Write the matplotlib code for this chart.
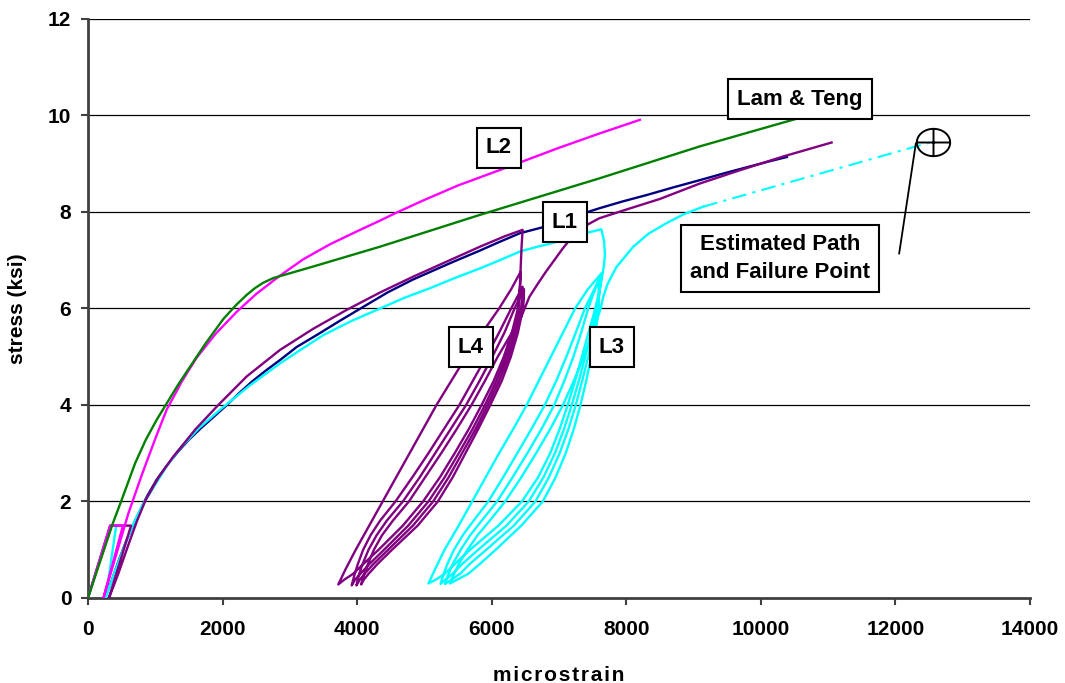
import numpy as np
import matplotlib
matplotlib.use("Agg")
import matplotlib.pyplot as plt
from matplotlib.path import Path

plt.rcParams['font.family'] = ['Liberation Sans', 'DejaVu Sans']
plt.rcParams['font.weight'] = 'bold'

# ---------------- data (microstrain, ksi) ----------------
# Seating load to ~1.5 ksi shared by the specimens
seat_strain = [0, 330]
seat_stress = [0.0, 1.5]

# L1 - monotonic
l1_strain = [253, 350, 450, 560, 700, 875, 1020, 1174, 1350, 1500, 1680, 1858, 2065,
             2250, 2450, 2650, 2853, 3100, 3400, 3750, 4087, 4450, 4830, 5400, 5825,
             6100, 6420, 6750, 7200, 7608, 7950, 8300, 8700, 9094, 9450, 9800, 10100, 10387]
l1_stress = [0.0, 0.35, 0.75, 1.15, 1.6, 2.1, 2.45, 2.75, 3.05, 3.28, 3.52, 3.74, 4.0,
             4.25, 4.5, 4.72, 4.93, 5.2, 5.45, 5.75, 6.03, 6.33, 6.6, 6.95, 7.2,
             7.37, 7.56, 7.68, 7.9, 8.08, 8.22, 8.35, 8.51, 8.66, 8.80, 8.93, 9.04, 9.14]

# L2 - monotonic (after seating hold and unload)
l2_strain = [520, 230, 420, 600, 800, 1000, 1169, 1400, 1615, 1900, 2210, 2500, 2853,
             3200, 3596, 4000, 4339, 4560, 5000, 5500, 6122, 7000, 7608, 8203]
l2_stress = [1.5, 0.0, 0.9, 1.75, 2.55, 3.3, 3.9, 4.5, 4.98, 5.48, 5.93, 6.3, 6.68,
             7.02, 7.33, 7.6, 7.82, 7.97, 8.25, 8.55, 8.87, 9.33, 9.63, 9.91]

# Lam & Teng model
lt_strain = [0, 370, 500, 700, 860, 1020, 1169, 1340, 1516, 1750, 2011, 2200, 2358,
             2480, 2600, 2754, 3348, 4339, 5825, 7608, 9094, 10700]
lt_stress = [0.0, 1.55, 2.03, 2.79, 3.28, 3.69, 4.03, 4.42, 4.79, 5.28, 5.78, 6.07, 6.28,
             6.42, 6.53, 6.63, 6.87, 7.28, 7.94, 8.70, 9.36, 10.0]

# L3 - cyclic: envelope, unload (U) / reload (R) cycles, final reload
l3_env_strain = [420, 263, 400, 550, 680, 800, 1000, 1180, 1367, 1650, 1962, 2400, 2853,
                 3200, 3500, 3900, 4339, 4700, 5082, 5450, 5825, 6120, 6420, 6680, 6915,
                 7360, 7630]
l3_env_stress = [1.5, 0.0, 0.55, 1.1, 1.55, 1.9, 2.35, 2.75, 3.1, 3.52, 3.9, 4.4, 4.86,
                 5.18, 5.45, 5.73, 6.0, 6.22, 6.42, 6.63, 6.83, 7.0, 7.18, 7.28, 7.36,
                 7.55, 7.64]
l3_ua_strain = [7670, 7683, 7670, 7650, 7620, 7540, 7440, 7340, 7240, 7130, 7010, 6870,
                6690, 6450, 6100, 5680, 5450, 5300, 5170, 5060]
l3_ua_stress = [7.4, 7.14, 6.9, 6.73, 6.5, 6.0, 5.5, 5.0, 4.5, 4.0, 3.5, 3.0,
                2.5, 2.0, 1.5, 1.0, 0.7, 0.5, 0.38, 0.30]
l3_r1_strain = [5160, 5300, 5510, 5710, 5910, 6110, 6320, 6520, 6700, 6880, 7060, 7240,
                7430, 7634]
l3_r1_stress = [0.6, 1.0, 1.5, 2.0, 2.5, 3.0, 3.5, 4.0, 4.5, 5.0, 5.5, 6.0, 6.4, 6.73]
l3_ub_strain = [7620, 7560, 7480, 7390, 7295, 7190, 7075, 6940, 6770, 6550, 6220, 5800,
                5560, 5420, 5310, 5240]
l3_ub_stress = [6.5, 6.0, 5.5, 5.0, 4.5, 4.0, 3.5, 3.0, 2.5, 2.0, 1.5, 1.0,
                0.7, 0.5, 0.38, 0.29]
l3_r2_strain = [5275, 5340, 5440, 5570, 5730, 5950, 6170, 6380, 6590, 6790, 6960, 7110,
                7250, 7385, 7490, 7608]
l3_r2_stress = [0.45, 0.7, 1.0, 1.3, 1.6, 2.0, 2.5, 3.0, 3.5, 4.0, 4.5, 5.0,
                5.5, 6.0, 6.3, 6.63]
l3_uc_strain = [7605, 7575, 7510, 7435, 7345, 7250, 7140, 7010, 6850, 6650, 6330, 5920,
                5670, 5530, 5400, 5305]
l3_uc_stress = [6.4, 6.0, 5.5, 5.0, 4.5, 4.0, 3.5, 3.0, 2.5, 2.0, 1.5, 1.0,
                0.7, 0.5, 0.38, 0.29]
l3_r3_strain = [5345, 5420, 5540, 5680, 5850, 6080, 6310, 6530, 6740, 6930, 7080, 7215,
                7330, 7435, 7510, 7584]
l3_r3_stress = [0.45, 0.7, 1.0, 1.3, 1.6, 2.0, 2.5, 3.0, 3.5, 4.0, 4.5, 5.0,
                5.5, 6.0, 6.3, 6.56]
l3_ud_strain = [7595, 7590, 7545, 7480, 7405, 7320, 7220, 7100, 6950, 6760, 6440, 6060,
                5820, 5650, 5490, 5380]
l3_ud_stress = [6.3, 6.0, 5.5, 5.0, 4.5, 4.0, 3.5, 3.0, 2.5, 2.0, 1.5, 1.0,
                0.7, 0.5, 0.38, 0.30]
l3_r4_strain = [5425, 5510, 5640, 5790, 5970, 6200, 6440, 6660, 6870, 7060, 7220, 7370,
                7500, 7620, 7658, 7720, 7850, 8104, 8330, 8600, 8850, 9144]
l3_r4_stress = [0.45, 0.7, 1.0, 1.3, 1.6, 2.0, 2.5, 3.0, 3.5, 4.0, 4.5, 5.0,
                5.5, 6.0, 6.24, 6.5, 6.85, 7.28, 7.55, 7.77, 7.95, 8.11]

# L3 estimated path and failure point
est_strain = [9144, 12561]
est_stress = [8.11, 9.46]
fail_strain = 12561
fail_stress = 9.46
leader_strain = [12304, 12056]
leader_stress = [9.42, 7.14]

# L4 - cyclic
l4_env_strain = [640, 312, 450, 600, 730, 857, 1050, 1268, 1600, 1937, 2358, 2853, 3348,
                 3844, 4339, 4834, 5330, 5825, 6200, 6460]
l4_env_stress = [1.5, 0.0, 0.5, 1.1, 1.6, 2.03, 2.5, 2.93, 3.5, 4.0, 4.59, 5.14, 5.58,
                 5.97, 6.33, 6.66, 6.97, 7.28, 7.5, 7.63]
l4_ua_strain = [6445, 6430, 6420, 6390, 6300, 6180, 6030, 5850, 5660, 5450, 5230, 4980,
                4680, 4320, 4090, 3940, 3810, 3720]
l4_ua_stress = [7.3, 6.8, 6.5, 6.0, 5.5, 5.0, 4.5, 4.0, 3.5, 3.0, 2.5, 2.0,
                1.5, 1.0, 0.7, 0.5, 0.38, 0.28]
l4_r1_strain = [3830, 3980, 4180, 4380, 4580, 4780, 4980, 5180, 5400, 5620, 5860, 6110,
                6290, 6430]
l4_r1_stress = [0.6, 1.0, 1.5, 2.0, 2.5, 3.0, 3.5, 4.0, 4.5, 5.0, 5.5, 6.0, 6.4, 6.76]
l4_ub_strain = [6425, 6405, 6325, 6215, 6070, 5900, 5715, 5510, 5300, 5060, 4760, 4400,
                4180, 4050, 3970, 3920]
l4_ub_stress = [6.5, 6.0, 5.5, 5.0, 4.5, 4.0, 3.5, 3.0, 2.5, 2.0, 1.5, 1.0,
                0.7, 0.5, 0.38, 0.26]
l4_r2_strain = [3955, 4010, 4090, 4200, 4340, 4570, 4820, 5060, 5290, 5520, 5720, 5920,
                6110, 6290, 6460]
l4_r2_stress = [0.45, 0.7, 1.0, 1.3, 1.6, 2.0, 2.5, 3.0, 3.5, 4.0, 4.5, 5.0,
                5.5, 6.0, 6.45]
l4_uc_strain = [6455, 6440, 6360, 6250, 6110, 5940, 5760, 5560, 5360, 5130, 4830, 4460,
                4240, 4110, 4040, 3990]
l4_uc_stress = [6.2, 6.0, 5.5, 5.0, 4.5, 4.0, 3.5, 3.0, 2.5, 2.0, 1.5, 1.0,
                0.7, 0.5, 0.38, 0.26]
l4_r3_strain = [4020, 4080, 4170, 4290, 4440, 4680, 4930, 5160, 5390, 5620, 5820, 6010,
                6190, 6340, 6480]
l4_r3_stress = [0.45, 0.7, 1.0, 1.3, 1.6, 2.0, 2.5, 3.0, 3.5, 4.0, 4.5, 5.0,
                5.5, 6.0, 6.4]
l4_ud_strain = [6478, 6465, 6390, 6285, 6150, 5980, 5800, 5610, 5420, 5200, 4900, 4520,
                4300, 4170, 4100, 4060]
l4_ud_stress = [6.2, 6.0, 5.5, 5.0, 4.5, 4.0, 3.5, 3.0, 2.5, 2.0, 1.5, 1.0,
                0.7, 0.5, 0.38, 0.28]
l4_r4_strain = [4095, 4160, 4250, 4370, 4530, 4770, 5010, 5250, 5480, 5700, 5900, 6090,
                6280, 6440, 6560, 6680, 6800, 6930, 7060, 7200, 7400, 7600, 8000, 8500,
                9094, 9700, 10332, 11052]
l4_r4_stress = [0.45, 0.7, 1.0, 1.3, 1.6, 2.0, 2.5, 3.0, 3.5, 4.0, 4.5, 5.0,
                5.45, 5.83, 6.24, 6.5, 6.75, 7.0, 7.25, 7.49, 7.72, 7.87, 8.05, 8.27,
                8.59, 8.87, 9.15, 9.44]

x_ticks = [0, 2000, 4000, 6000, 8000, 10000, 12000, 14000]
y_ticks = [0, 2, 4, 6, 8, 10, 12]


def chain(*parts):
    out = []
    for p in parts:
        out.extend(p)
    return out


l3_strain = chain(seat_strain, l3_env_strain, l3_ua_strain, l3_r1_strain, l3_ub_strain,
                  l3_r2_strain, l3_uc_strain, l3_r3_strain, l3_ud_strain, l3_r4_strain)
l3_stress = chain(seat_stress, l3_env_stress, l3_ua_stress, l3_r1_stress, l3_ub_stress,
                  l3_r2_stress, l3_uc_stress, l3_r3_stress, l3_ud_stress, l3_r4_stress)
l4_strain = chain(seat_strain, l4_env_strain, l4_ua_strain, l4_r1_strain, l4_ub_strain,
                  l4_r2_strain, l4_uc_strain, l4_r3_strain, l4_ud_strain, l4_r4_strain)
l4_stress = chain(seat_stress, l4_env_stress, l4_ua_stress, l4_r1_stress, l4_ub_stress,
                  l4_r2_stress, l4_uc_stress, l4_r3_stress, l4_ud_stress, l4_r4_stress)
l2_full_strain = chain(seat_strain, l2_strain)
l2_full_stress = chain(seat_stress, l2_stress)

# ---------------- figure ----------------
fig = plt.figure(figsize=(10.65, 6.83), dpi=100)
ax = fig.add_axes([0.0826, 0.1245, 0.8845, 0.8477])

for yv in y_ticks[1:]:
    ax.axhline(yv, color='black', lw=0.9, zorder=1)

lw = 1.7
ax.plot(l1_strain, l1_stress, color='#000080', lw=lw, zorder=3)
ax.plot(l3_strain, l3_stress, color='#00FFFF', lw=lw, zorder=3)
ax.plot(l4_strain, l4_stress, color='#800080', lw=lw, zorder=4)
ax.plot(l2_full_strain, l2_full_stress, color='#FF00FF', lw=lw, zorder=4)
ax.plot(lt_strain, lt_stress, color='#008000', lw=lw, zorder=4)

ax.plot(est_strain, est_stress, color='#00FFFF', lw=1.5, zorder=3,
        dashes=[7, 3, 1.5, 3])

# failure point symbol: oval with cross hairs
t = np.linspace(0, 2 * np.pi, 73)
verts = [(np.cos(a), 0.82 * np.sin(a)) for a in t]
codes = [Path.MOVETO] + [Path.LINETO] * (len(verts) - 1)
verts += [(-1, 0), (1, 0), (0, -0.82), (0, 0.82)]
codes += [Path.MOVETO, Path.LINETO, Path.MOVETO, Path.LINETO]
fail_marker = Path(verts, codes)
ax.plot([fail_strain], [fail_stress], marker=fail_marker, markersize=24,
        markerfacecolor='none', markeredgecolor='black', markeredgewidth=1.4,
        linestyle='none', zorder=6)
ax.plot(leader_strain, leader_stress, color='black', lw=1.3, zorder=6)

box = dict(boxstyle='square,pad=0.42', facecolor='white', edgecolor='black', linewidth=1.5)
label_kw = dict(fontsize=16, fontweight='bold', ha='center', va='center', bbox=box, zorder=7)
ax.text(7088, 7.79, 'L1', **label_kw)
ax.text(6107, 9.33, 'L2', **label_kw)
ax.text(7787, 5.20, 'L3', **label_kw)
ax.text(5691, 5.20, 'L4', **label_kw)
ax.text(10580, 10.34, 'Lam & Teng', **label_kw)
ax.text(10283, 7.03, 'Estimated Path\nand Failure Point', linespacing=1.45,
        **dict(label_kw, bbox=dict(boxstyle='square,pad=0.4', facecolor='white',
                                   edgecolor='black', linewidth=1.5)))

ax.set_xlim(0, 14000)
ax.set_ylim(0, 12)
ax.set_xticks(x_ticks)
ax.set_yticks(y_ticks)
ax.tick_params(axis='both', which='major', labelsize=15, length=5, width=1.5,
               direction='out', color='#404040')
ax.tick_params(axis='x', pad=11)
ax.tick_params(axis='y', pad=7)
for lab in ax.get_xticklabels() + ax.get_yticklabels():
    lab.set_fontweight('bold')

for side in ('top', 'right'):
    ax.spines[side].set_visible(False)
for side in ('left', 'bottom'):
    ax.spines[side].set_color('#404040')
    ax.spines[side].set_linewidth(2.0)

ax.set_xlabel('\u200a'.join('microstrain'), fontsize=15, fontweight='bold', labelpad=19)
ax.set_ylabel('stress (ksi)', fontsize=15, fontweight='bold', labelpad=15)

fig.savefig('out.png', dpi=100)
